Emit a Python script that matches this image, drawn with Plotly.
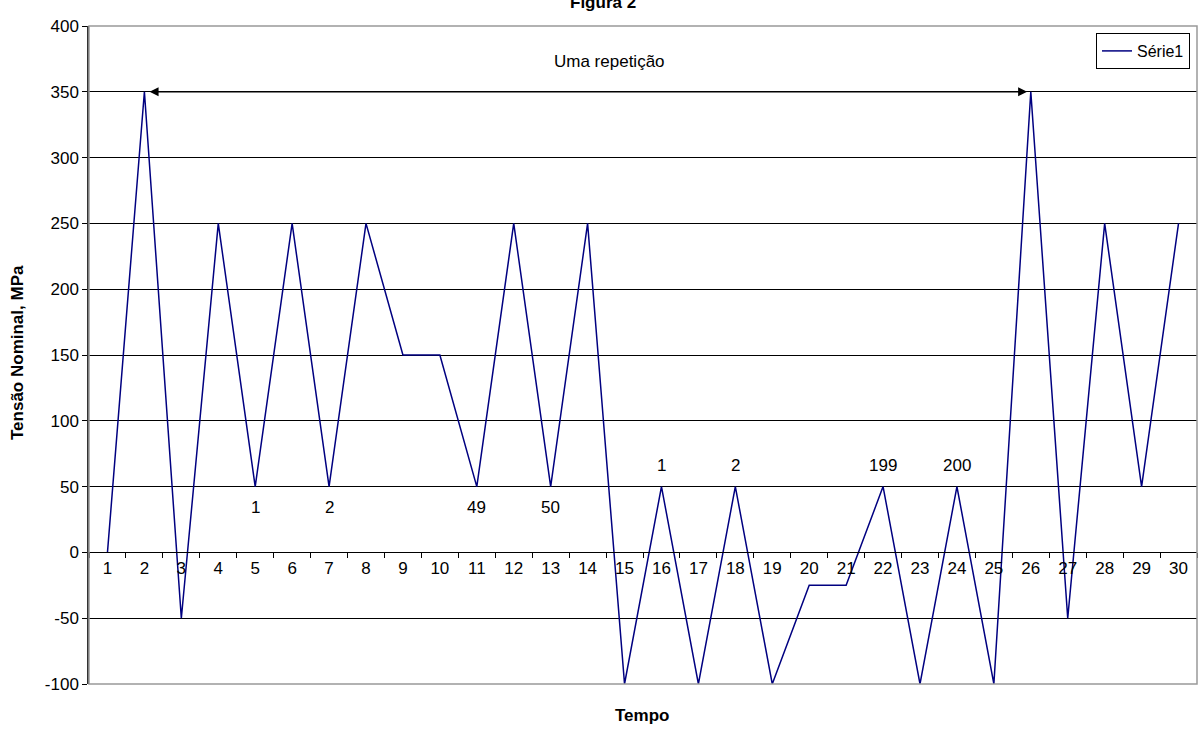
import plotly.graph_objects as go

categories = [str(i) for i in range(1, 31)]
values = [0, 350, -50, 250, 50, 250, 50, 250, 150, 150, 50, 250, 50, 250, -100,
          50, -100, 50, -100, -25, -25, 50, -100, 50, -100, 350, -50, 250, 50, 250]
count_labels_low = [("5", "1"), ("7", "2"), ("11", "49"), ("13", "50")]
count_labels_high = [("16", "1"), ("18", "2"), ("22", "199"), ("24", "200")]
y_ticks = [-100, -50, 0, 50, 100, 150, 200, 250, 300, 350, 400]
y_ticktext = [str(v) for v in y_ticks]

FONT = "Liberation Sans, Arial, sans-serif"
FS = 17

fig = go.Figure()
fig.add_trace(go.Scatter(x=categories, y=values, mode="lines", name="Série1",
                         line=dict(color="#000080", width=1.5)))

annotations = []
for cat, txt in count_labels_low:
    annotations.append(dict(x=categories.index(cat), y=34, text=txt, showarrow=False,
                            xref="x", yref="y", font=dict(size=FS, color="black", family=FONT)))
for cat, txt in count_labels_high:
    annotations.append(dict(x=categories.index(cat), y=66, text=txt, showarrow=False,
                            xref="x", yref="y", font=dict(size=FS, color="black", family=FONT)))
annotations.append(dict(x=13.6, y=373, xref="x", yref="y", text="Uma repetição", showarrow=False,
                        font=dict(size=FS, color="black", family=FONT)))
annotations.append(dict(x=categories.index("26") - 0.1, y=350,
                        ax=categories.index("2") + 0.1, ay=350,
                        xref="x", yref="y", axref="x", ayref="y",
                        text="", showarrow=True, arrowhead=2, arrowside="end+start",
                        arrowsize=1.2, arrowwidth=1.5, arrowcolor="black",
                        standoff=0, startstandoff=0))
annotations.append(dict(x=(642 - 89) / 1108, y=(684 - 715) / 658, xref="paper", yref="paper",
                        text="<b>Tempo</b>", showarrow=False, yanchor="middle",
                        font=dict(size=FS, color="black", family=FONT)))
annotations.append(dict(x=(603 - 89) / 1108, y=(684 - 3) / 658, xref="paper", yref="paper",
                        text="<b>Figura 2</b>", showarrow=False, yanchor="middle",
                        font=dict(size=FS, color="black", family=FONT)))
annotations.append(dict(x=(17 - 89) / 1108, y=(684 - 353) / 658, xref="paper", yref="paper",
                        text="<b>Tensão Nominal, MPa</b>", showarrow=False, textangle=-90,
                        xanchor="center", yanchor="middle",
                        font=dict(size=FS, color="black", family=FONT)))

fig.update_layout(
    width=1200, height=731,
    margin=dict(l=89, r=3, t=26, b=47),
    paper_bgcolor="white", plot_bgcolor="white",
    font=dict(family=FONT, color="black", size=FS),
    showlegend=True,
    legend=dict(x=(1190 - 89) / 1108, xanchor="right", y=(684 - 33) / 658, yanchor="top",
                bordercolor="black", borderwidth=1, bgcolor="white",
                font=dict(size=16, family=FONT), itemwidth=30, tracegroupgap=0),
    xaxis=dict(type="category", range=[-0.5, 29.5], anchor="free", position=0.2,
               showline=True, linecolor="black", linewidth=1, ticks="outside",
               tickson="boundaries", ticklen=5, tickcolor="black", showgrid=False,
               tickfont=dict(size=FS, family=FONT), zeroline=False),
    yaxis=dict(range=[-100, 400], tickvals=y_ticks, ticktext=y_ticktext, showline=True,
               linecolor="#333333", linewidth=1.5, ticks="outside", ticklen=5,
               tickcolor="black", showgrid=True, gridcolor="black", gridwidth=1,
               zeroline=False, tickfont=dict(size=FS, family=FONT)),
    annotations=annotations,
    shapes=[dict(type="rect", xref="paper", yref="paper", x0=0, x1=1, y0=0, y1=1,
                 line=dict(color="#999999", width=1.5), layer="above")],
)

fig.write_html("out.html", config={"displayModeBar": False},
               post_script="document.body.style.margin='0';document.body.style.overflow='hidden';")
